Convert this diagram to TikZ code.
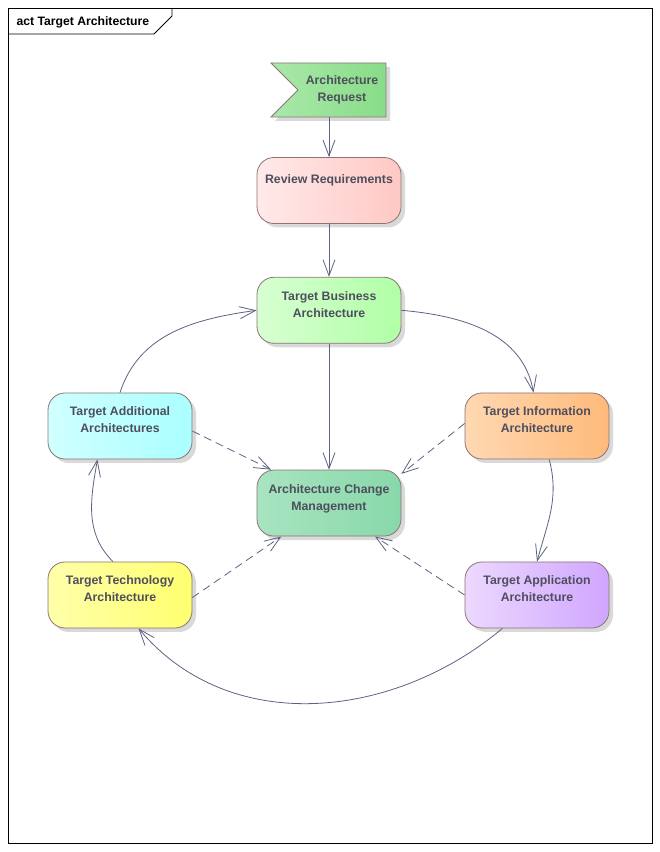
\documentclass[tikz,border=0pt]{standalone}
\usepackage{fontspec}
\setmainfont{Liberation Sans}
\usetikzlibrary{shapes.symbols, arrows.meta, positioning, shadows}
\definecolor{edgeline}{RGB}{91,99,128}
\definecolor{boxline}{RGB}{140,116,116}
\definecolor{labeltext}{RGB}{78,78,94}
\tikzstyle{activity} = [rectangle, rounded corners=17pt, minimum width=144pt, minimum height=66pt, inner sep=0pt, text centered, align=center, draw=boxline, line width=0.8pt, text=labeltext, font=\bfseries\fontsize{12.3}{17}\selectfont, text height=27pt, text depth=13pt, drop shadow={shadow xshift=4pt, shadow yshift=-4pt, fill=black!15, opacity=1}]
\tikzstyle{event} = [signal, signal to=nowhere, signal from=west, signal pointer angle=90, minimum width=115pt, minimum height=54pt, inner sep=0pt, align=center, draw=boxline, line width=0.8pt, text=labeltext, font=\bfseries\fontsize{12.3}{17}\selectfont, left color={rgb,255:red,170;green,232;blue,170}, right color={rgb,255:red,136;green,220;blue,136}, drop shadow={shadow xshift=4pt, shadow yshift=-4pt, fill=black!15, opacity=1}]
\tikzstyle{arrow} = [draw=edgeline, line width=0.8pt, -{Straight Barb[length=16pt,width=12pt]}]
\tikzstyle{dasharrow} = [arrow, dash pattern=on 8pt off 5pt]

\begin{document}
\begin{tikzpicture}[x=1pt, y=1pt]
\useasboundingbox (0,0) rectangle (660,852);

% Frame
\draw [black, line width=0.8pt] (8.5,8.5) rectangle (652.5,843.5);
\draw [black, line width=0.8pt] (8.5,818) -- (154,818) -- (172,836) -- (172,843.5);
\node (title) [anchor=base west, font=\bfseries\fontsize{12.2}{14}\selectfont] at (13,826) {act Target Architecture};

% Nodes
\node (request) [event] at (342,762) {Architecture\\Request};
\node (review) [activity, left color={rgb,255:red,255;green,234;blue,234}, right color={rgb,255:red,255;green,200;blue,196}, text height=10pt, text depth=24pt] at (329,661.5) {Review Requirements};
\node (business) [activity, below=53pt of review, left color={rgb,255:red,216;green,255;blue,210}, right color={rgb,255:red,176;green,255;blue,166}] {Target Business\\Architecture};
\node (change) [activity, below=126pt of business, left color={rgb,255:red,168;green,228;blue,192}, right color={rgb,255:red,136;green,216;blue,170}] {Architecture Change\\Management};
\node (additional) [activity, left color={rgb,255:red,208;green,255;blue,255}, right color={rgb,255:red,170;green,255;blue,255}] at (120,426) {Target Additional\\Architectures};
\node (information) [activity, left color={rgb,255:red,255;green,216;blue,178}, right color={rgb,255:red,255;green,186;blue,122}] at (537,426) {Target Information\\Architecture};
\node (technology) [activity, left color={rgb,255:red,255;green,255;blue,170}, right color={rgb,255:red,255;green,255;blue,112}] at (120,257) {Target Technology\\Architecture};
\node (application) [activity, left color={rgb,255:red,236;green,216;blue,255}, right color={rgb,255:red,208;green,166;blue,255}] at (537,257) {Target Application\\Architecture};

% Arrows
\draw [arrow] (request.south -| review.north) -- (review.north);
\draw [arrow] (review) -- (business);
\draw [arrow] (business) -- (change);

% Curved arrows
\draw [arrow] (business.east) to[out=-5, in=100] (information.96);
\draw [arrow] (information.-70) to[out=-75, in=75] (application.north);
\draw [arrow] (application.-136) to[out=-140, in=-50] (technology.-61);
\draw [arrow] (technology.102) to[out=135, in=-100] (additional.-124);
\draw [arrow] (additional.north) to[out=72, in=188] (business.west);

% Dashed arrows
\draw [dasharrow] (additional.-4) -- (change.150);
\draw [dasharrow] (information.178) -- (change.22);
\draw [dasharrow] (technology.-2) -- (change.-145);
\draw [dasharrow] (application.west) -- (change.-36);

\end{tikzpicture}
\end{document}
